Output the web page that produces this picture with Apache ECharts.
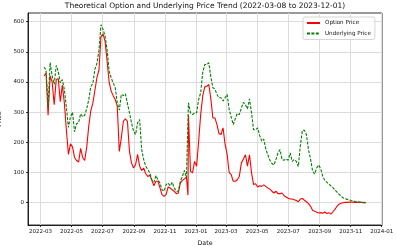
<!DOCTYPE html>
<html>
<head>
<meta charset="utf-8">
<script src="https://cdn.jsdelivr.net/npm/echarts@6/dist/echarts.min.js"></script>
<style>
  html, body { margin: 0; padding: 0; background: #fff; }
  #chart { width: 396px; height: 246px; }
</style>
</head>
<body>
<div id="chart"></div>
<script>
// sampled dates (about every 4 days)
const dates = [
  '2022-03-08', '2022-03-12', '2022-03-16', '2022-03-20', '2022-03-24', '2022-03-28', '2022-04-01', '2022-04-05', '2022-04-09', '2022-04-13',
  '2022-04-17', '2022-04-21', '2022-04-25', '2022-04-29', '2022-05-03', '2022-05-07', '2022-05-11', '2022-05-15', '2022-05-19', '2022-05-23',
  '2022-05-27', '2022-05-31', '2022-06-04', '2022-06-08', '2022-06-12', '2022-06-16', '2022-06-20', '2022-06-24', '2022-06-28', '2022-07-02',
  '2022-07-06', '2022-07-10', '2022-07-14', '2022-07-18', '2022-07-22', '2022-07-26', '2022-07-30', '2022-08-03', '2022-08-07', '2022-08-11',
  '2022-08-15', '2022-08-19', '2022-08-23', '2022-08-27', '2022-08-31', '2022-09-04', '2022-09-08', '2022-09-12', '2022-09-16', '2022-09-20',
  '2022-09-24', '2022-09-28', '2022-10-02', '2022-10-06', '2022-10-10', '2022-10-14', '2022-10-18', '2022-10-22', '2022-10-26', '2022-10-30',
  '2022-11-03', '2022-11-07', '2022-11-11', '2022-11-15', '2022-11-19', '2022-11-23', '2022-11-27', '2022-12-01', '2022-12-05', '2022-12-09',
  '2022-12-13', '2022-12-16', '2022-12-17', '2022-12-21', '2022-12-25', '2022-12-29', '2023-01-02', '2023-01-06', '2023-01-10', '2023-01-14',
  '2023-01-18', '2023-01-22', '2023-01-26', '2023-01-30', '2023-02-03', '2023-02-07', '2023-02-11', '2023-02-15', '2023-02-19', '2023-02-23',
  '2023-02-27', '2023-03-03', '2023-03-07', '2023-03-11', '2023-03-15', '2023-03-19', '2023-03-23', '2023-03-27', '2023-03-31', '2023-04-04',
  '2023-04-08', '2023-04-12', '2023-04-16', '2023-04-20', '2023-04-24', '2023-04-28', '2023-05-02', '2023-05-06', '2023-05-10', '2023-05-14',
  '2023-05-18', '2023-05-22', '2023-05-26', '2023-05-30', '2023-06-03', '2023-06-07', '2023-06-11', '2023-06-15', '2023-06-19', '2023-06-23',
  '2023-06-27', '2023-07-01', '2023-07-05', '2023-07-09', '2023-07-13', '2023-07-17', '2023-07-21', '2023-07-25', '2023-07-29', '2023-08-02',
  '2023-08-06', '2023-08-10', '2023-08-14', '2023-08-18', '2023-08-22', '2023-08-26', '2023-08-30', '2023-09-03', '2023-09-07', '2023-09-11',
  '2023-09-15', '2023-09-19', '2023-09-23', '2023-09-27', '2023-10-01', '2023-10-05', '2023-10-09', '2023-10-13', '2023-10-17', '2023-10-21',
  '2023-10-25', '2023-10-29', '2023-11-02', '2023-11-06', '2023-11-10', '2023-11-14', '2023-11-18', '2023-11-22', '2023-11-26', '2023-12-01'
];

const optionPrice = [
  420, 430, 290, 420, 400, 325, 408, 412, 335, 390,
  330, 240, 160, 195, 185, 150, 140, 135, 180, 150,
  140, 185, 255, 305, 330, 372, 415, 440, 550, 560,
  536, 470, 400, 370, 355, 342, 320, 170, 215, 270,
  278, 270, 170, 132, 115, 126, 160, 121, 107, 115,
  96, 87, 91, 74, 56, 71, 71, 49, 27, 21,
  27, 52, 49, 43, 38, 30, 32, 65, 74, 79,
  85, 25, 290, 104, 99, 137, 121, 204, 292, 353,
  384, 386, 392, 344, 281, 281, 259, 229, 226, 248,
  193, 160, 100, 93, 71, 71, 76, 87, 132, 145,
  159, 121, 159, 99, 60, 63, 52, 56, 54, 59,
  54, 49, 45, 38, 32, 38, 30, 30, 32, 23,
  19, 15, 12, 12, 10, 7, 3, 12, 14, 8,
  3, -3, -12, -25, -28, -32, -34, -33, -35, -31,
  -36, -33, -38, -30, -22, -12, -5, -2, 0, 1,
  1, 2, 2, 2, 1, 1, 1, 1, 0, 0
];

const underlyingPrice = [
  450, 440, 320, 465, 420, 392, 455, 436, 397, 408,
  375, 315, 250, 285, 300, 235, 262, 265, 295, 285,
  290, 312, 342, 385, 395, 442, 462, 505, 590, 575,
  552, 508, 436, 414, 397, 381, 331, 307, 359, 355,
  361, 329, 298, 265, 237, 226, 265, 276, 176, 143,
  121, 110, 99, 76, 68, 90, 76, 65, 43, 38,
  60, 65, 56, 68, 49, 38, 38, 71, 87, 107,
  82, 87, 331, 298, 292, 298, 298, 342, 364, 431,
  458, 458, 464, 417, 381, 377, 359, 348, 348, 337,
  348, 359, 309, 284, 259, 278, 296, 292, 314, 333,
  325, 311, 344, 298, 242, 242, 248, 223, 204, 211,
  178, 159, 141, 130, 125, 143, 165, 176, 143, 141,
  145, 141, 165, 137, 143, 137, 120, 190, 240, 240,
  225, 175, 145, 105, 95, 115, 125, 112, 88, 74,
  68, 62, 56, 50, 42, 35, 28, 22, 16, 13,
  11, 9, 7, 6, 4, 3, 2, 1, 1, 0
];

const monthTicks = [
  '2022-03-01', '2022-05-01', '2022-07-01', '2022-09-01', '2022-11-01', '2023-01-01',
  '2023-03-01', '2023-05-01', '2023-07-01', '2023-09-01', '2023-11-01', '2024-01-01'
];
const priceTicks = [0, 100, 200, 300, 400, 500, 600];

// dates -> UTC milliseconds, the x axis is a plain value axis in ms
const toTime = (s) => new Date(s.length > 10 ? s : s + 'T00:00:00Z').getTime();

const font = 'DejaVu Sans';
const textColor = '#111';

const chart = echarts.init(document.getElementById('chart'));

const option = {
  animation: false,
  title: {
    text: 'Theoretical Option and Underlying Price Trend (2022-03-08 to 2023-12-01)',
    left: 205,
    top: 2,
    textAlign: 'center',
    padding: 0,
    textStyle: { fontFamily: font, fontSize: 7.5, fontWeight: 'normal', color: textColor }
  },
  legend: {
    orient: 'vertical',
    left: 303,
    top: 17,
    padding: [3, 4, 3, 3],
    itemWidth: 13,
    itemHeight: 5,
    itemGap: 4.5,
    backgroundColor: 'rgba(255,255,255,0.85)',
    borderColor: '#cccccc',
    borderWidth: 0.8,
    borderRadius: 2,
    itemStyle: { opacity: 0 },
    textStyle: { fontFamily: font, fontSize: 5.6, color: textColor },
    data: ['Option Price', 'Underlying Price']
  },
  grid: {
    left: 28,
    right: 14,
    top: 13,
    bottom: 21,
    show: true,
    borderColor: '#000',
    borderWidth: 0.8,
    outerBoundsMode: 'none'
  },
  xAxis: {
    type: 'value',
    min: toTime('2022-02-04T12:00:00Z'),
    max: toTime('2024-01-01T12:00:00Z'),
    name: 'Date',
    nameLocation: 'middle',
    nameGap: 13,
    nameTextStyle: { fontFamily: font, fontSize: 6.3, color: textColor },
    axisLine: { show: true, onZero: false, lineStyle: { color: '#000', width: 0.8 } },
    axisTick: { show: true, length: 2, lineStyle: { color: '#000', width: 0.8 }, customValues: monthTicks.map(toTime) },
    axisLabel: {
      customValues: monthTicks.map(toTime),
      margin: 4,
      fontFamily: font,
      fontSize: 5.5,
      color: textColor,
      formatter: (v) => echarts.time.format(v, '{yyyy}-{MM}', true)
    },
    splitLine: { show: true, lineStyle: { color: '#dcdcdc', width: 1 } }
  },
  yAxis: {
    type: 'value',
    min: -74,
    max: 629,
    name: 'Price',
    nameLocation: 'middle',
    nameGap: 19,
    nameRotate: 90,
    nameTextStyle: { fontFamily: font, fontSize: 6.3, color: textColor },
    axisLine: { show: true, onZero: false, lineStyle: { color: '#000', width: 0.8 } },
    axisTick: { show: true, length: 2, lineStyle: { color: '#000', width: 0.8 }, customValues: priceTicks },
    axisLabel: { customValues: priceTicks, margin: 4, fontFamily: font, fontSize: 5.5, color: textColor },
    splitLine: { show: true, lineStyle: { color: '#dcdcdc', width: 1 } }
  },
  series: [
    {
      name: 'Option Price',
      type: 'line',
      symbol: 'none',
      data: dates.map((d, i) => [toTime(d), optionPrice[i]]),
      itemStyle: { color: '#ff0000' },
      lineStyle: { color: '#ff0000', width: 1.1 }
    },
    {
      name: 'Underlying Price',
      type: 'line',
      symbol: 'none',
      data: dates.map((d, i) => [toTime(d), underlyingPrice[i]]),
      itemStyle: { color: '#008000' },
      lineStyle: { color: '#008000', width: 1.1, type: [3, 1.4] }
    }
  ]
};

chart.setOption(option);
</script>
</body>
</html>
